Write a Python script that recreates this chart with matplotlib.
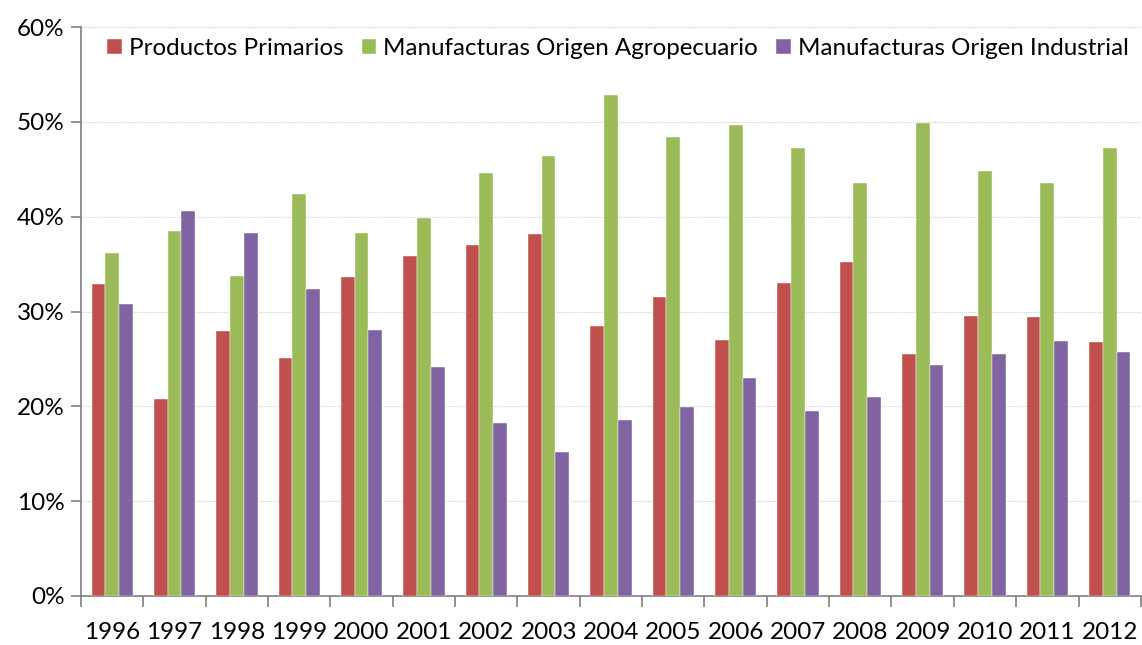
import numpy as np
import matplotlib.pyplot as plt
from matplotlib.ticker import FuncFormatter, MultipleLocator

plt.rcParams['font.family'] = ['Lato', 'DejaVu Sans']

years = ['1996', '1997', '1998', '1999', '2000', '2001', '2002', '2003', '2004',
         '2005', '2006', '2007', '2008', '2009', '2010', '2011', '2012']
primarios = [32.9, 20.8, 27.9, 25.1, 33.6, 35.9, 37.0, 38.2, 28.5,
             31.5, 27.0, 33.0, 35.2, 25.5, 29.5, 29.4, 26.8]
agro = [36.2, 38.5, 33.7, 42.4, 38.3, 39.9, 44.6, 46.4, 52.8,
        48.4, 49.7, 47.3, 43.6, 49.9, 44.8, 43.6, 47.3]
industrial = [30.8, 40.6, 38.3, 32.4, 28.0, 24.1, 18.2, 15.2, 18.6,
              19.9, 23.0, 19.5, 21.0, 24.4, 25.5, 26.9, 25.7]

series = [
    ('Productos Primarios', primarios, '#C0504D'),
    ('Manufacturas Origen Agropecuario', agro, '#9BBB59'),
    ('Manufacturas Origen Industrial', industrial, '#8064A2'),
]

fig = plt.figure(figsize=(11.42, 6.45), dpi=100)
ax = fig.add_axes([0.071, 0.076, 0.928, 0.882])

x = np.arange(len(years))
w = 0.22
for i, (name, vals, col) in enumerate(series):
    ax.bar(x + (i - 1) * w, vals, width=w, color=col, label=name,
           edgecolor='white', linewidth=0.3, zorder=3)

ax.set_xlim(-0.5, len(years) - 0.5)
ax.set_ylim(0, 60)
ax.yaxis.set_major_locator(MultipleLocator(10))
ax.yaxis.set_major_formatter(FuncFormatter(lambda v, p: f'{v:.0f}%'))
ax.grid(axis='y', color='#d0d0d0', linestyle=(0, (1, 1)), linewidth=0.8, zorder=0)

# year labels at centres, tick marks at group boundaries
ax.set_xticks(x)
ax.set_xticklabels(years)
ax.set_xticks(np.arange(len(years) + 1) - 0.5, minor=True)
ax.tick_params(axis='x', which='major', length=0, pad=19, labelsize=17.5)
ax.tick_params(axis='x', which='minor', length=8, color='#808080', width=1.2)
ax.tick_params(axis='y', length=7, color='#808080', width=1.2, labelsize=17.5, pad=5)

for s in ['top', 'right']:
    ax.spines[s].set_visible(False)
for s in ['left', 'bottom']:
    ax.spines[s].set_color('#808080')
    ax.spines[s].set_linewidth(1.2)

ax.legend(loc='upper left', bbox_to_anchor=(0.012, 1.004), ncol=3, frameon=False,
          fontsize=17.4, handlelength=0.6, handleheight=0.6, handletextpad=0.3,
          columnspacing=0.75, borderaxespad=0.15)

fig.savefig('out.png', dpi=100)
